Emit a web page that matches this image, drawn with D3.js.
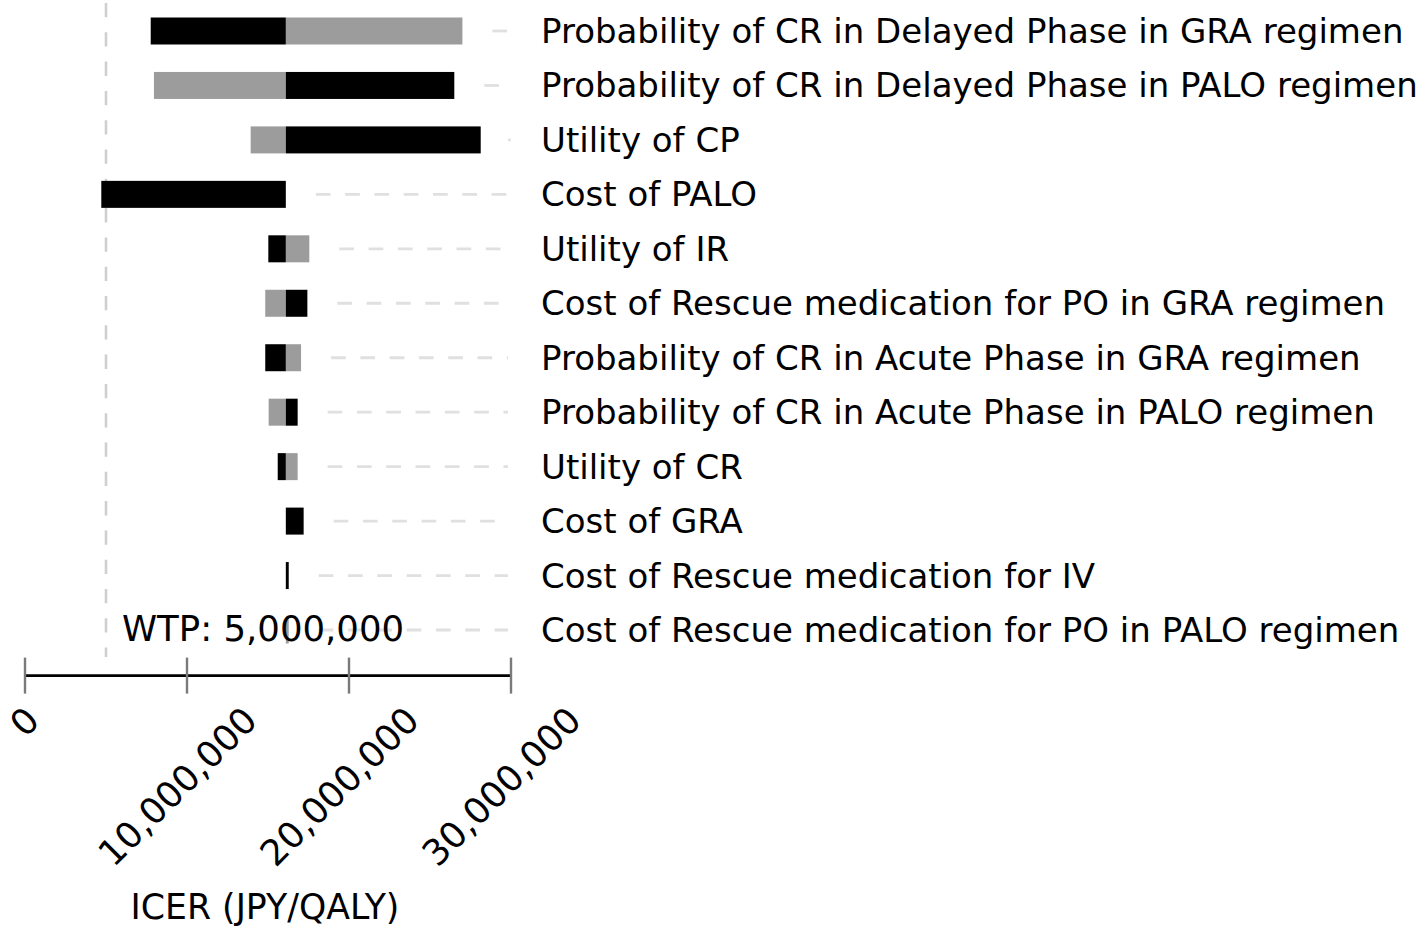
<!DOCTYPE html>
<html>
<head>
<meta charset="utf-8">
<script src="https://cdn.jsdelivr.net/npm/d3@7"></script>
<style>
  html, body { margin: 0; padding: 0; background: #fff; }
  svg { display: block; }
  text { font-family: "DejaVu Sans", sans-serif; fill: #000; }
</style>
</head>
<body>
<svg id="chart" width="1418" height="929"></svg>
<script>
// ---- Data ----
const categories = [
  "Probability of CR in Delayed Phase in GRA regimen",
  "Probability of CR in Delayed Phase in PALO regimen",
  "Utility of CP",
  "Cost of PALO",
  "Utility of IR",
  "Cost of Rescue medication for PO in GRA regimen",
  "Probability of CR in Acute Phase in GRA regimen",
  "Probability of CR in Acute Phase in PALO regimen",
  "Utility of CR",
  "Cost of GRA",
  "Cost of Rescue medication for IV",
  "Cost of Rescue medication for PO in PALO regimen"
];
// ICER (JPY/QALY) at each end of the parameter range
const blackValues = [7.76e6, 26.5e6, 28.13e6, 4.71e6, 15.02e6, 17.43e6, 14.83e6, 16.83e6, 15.6e6, 17.2e6, 16.28e6, 16.1e6];
const greyValues  = [27.0e6, 7.96e6, 13.93e6, 16.1e6, 17.55e6, 14.83e6, 17.04e6, 15.04e6, 16.83e6, 16.1e6, 16.1e6, 16.28e6];
const baseICER = 16.1e6;
const wtp = 5e6;
const wtpLabel = "WTP: 5,000,000";
const xTicks = [0, 10e6, 20e6, 30e6];
const xTitle = "ICER (JPY/QALY)";

// ---- Layout ----
const svg = d3.select("#chart");
const FS = 34;
const x = d3.scaleLinear().domain([0, 30e6]).range([25, 511]);
const y = d3.scalePoint().domain(categories).range([31, 630]);
const barH = 27;
const axisY = 675.6;
const leaderEnd = 508;

// WTP dashed line
svg.append("line")
  .attr("x1", x(wtp)).attr("x2", x(wtp))
  .attr("y1", 3).attr("y2", 657)
  .attr("stroke", "#cfcfcf").attr("stroke-width", 2.6)
  .attr("stroke-dasharray", "14.3 15");

// leader lines
categories.forEach((c, i) => {
  const right = Math.max(x(blackValues[i]), x(greyValues[i]), x(baseICER));
  svg.append("line")
    .attr("x1", right + 30).attr("x2", leaderEnd)
    .attr("y1", y(c)).attr("y2", y(c))
    .attr("stroke", "#e0e0e0").attr("stroke-width", 2.8)
    .attr("stroke-dasharray", "14.7 14.6");
});

// bars
function seg(val, i, color) {
  const a = x(Math.min(val, baseICER)), b = x(Math.max(val, baseICER));
  if (b - a < 0.01) return;
  svg.append("rect")
    .attr("x", a).attr("width", Math.max(b - a, 2.5))
    .attr("y", y(categories[i]) - barH / 2).attr("height", barH)
    .attr("fill", color);
}
categories.forEach((c, i) => {
  seg(greyValues[i], i, "#9c9c9c");
  seg(blackValues[i], i, "#000");
});

// category labels
svg.selectAll("text.cat").data(categories).enter().append("text")
  .attr("class", "cat")
  .attr("x", 541)
  .attr("y", d => y(d) + 12)
  .style("font-size", FS + "px")
  .text(d => d);

// WTP label
svg.append("text")
  .attr("x", 122).attr("y", 641)
  .style("font-size", "35.5px")
  .text(wtpLabel);

// axis
const axisG = svg.append("g");
axisG.append("line")
  .attr("x1", x(0)).attr("x2", x(30e6))
  .attr("y1", axisY).attr("y2", axisY)
  .attr("stroke", "#000").attr("stroke-width", 2.6);
axisG.selectAll("line.tick").data(xTicks).enter().append("line")
  .attr("class", "tick")
  .attr("x1", d => x(d)).attr("x2", d => x(d))
  .attr("y1", axisY - 18).attr("y2", axisY + 18)
  .attr("stroke", "#7a7a7a").attr("stroke-width", 2.4);

const fmt = d3.format(",");
const TFS = 36;
const capH = TFS * 0.73;
axisG.selectAll("text.tl").data(xTicks).enter().append("text")
  .attr("class", "tl")
  .style("font-size", TFS + "px")
  .attr("text-anchor", "end")
  .text(d => fmt(d))
  .each(function(d) {
    const L = this.getComputedTextLength();
    const ax = Math.max(x(d) - 10 + 0.354 * (L + capH), 0.707 * (L + 0.95 * TFS) + 1);
    const ay = 704 + 0.707 * capH;
    d3.select(this).attr("transform", `translate(${ax},${ay}) rotate(-45)`);
  });

// axis title
svg.append("text")
  .attr("x", 265).attr("y", 919)
  .attr("text-anchor", "middle")
  .style("font-size", "34.7px")
  .text(xTitle);
</script>
</body>
</html>
